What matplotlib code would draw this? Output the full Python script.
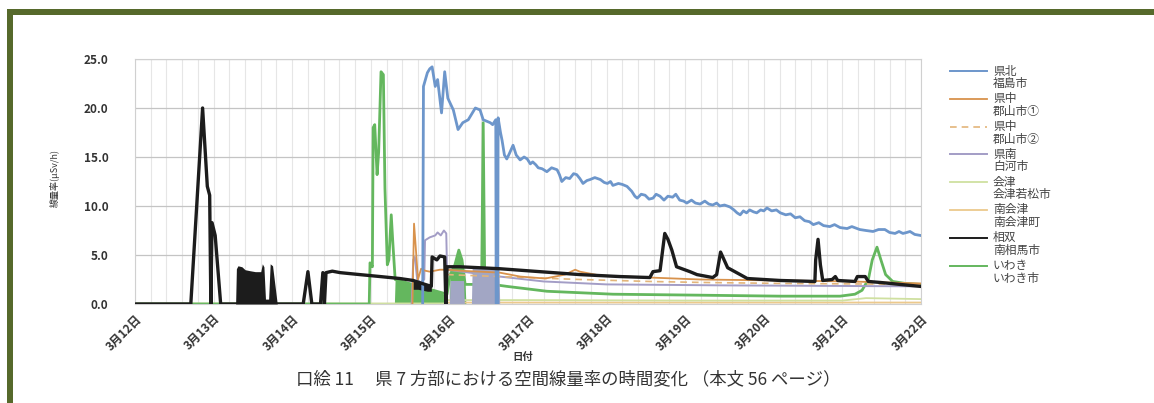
import matplotlib
matplotlib.use("Agg")
import matplotlib.pyplot as plt
from matplotlib.lines import Line2D
from matplotlib.patches import Rectangle

plt.rcParams['font.family'] = ['Noto Sans CJK JP', 'DejaVu Sans']

W, H = 1154, 403

# ---- data: elapsed days since 3/12 00:00, dose rate in μSv/h ----
date_labels = ['3月12日', '3月13日', '3月14日', '3月15日', '3月16日', '3月17日',
               '3月18日', '3月19日', '3月20日', '3月21日', '3月22日']

fukushima = [(3.66, 0), (3.67, 22.2), (3.72, 23.6), (3.75, 24.0), (3.78, 24.2), (3.82, 22.2),
             (3.85, 22.9), (3.90, 19.5), (3.94, 23.7), (3.98, 21.0), (4.05, 19.8), (4.11, 17.8),
             (4.17, 18.5), (4.24, 18.8), (4.33, 20.0), (4.39, 19.8), (4.43, 18.8), (4.52, 18.5),
             (4.55, 18.3), (4.59, 18.8), (4.595, 0), (4.615, 0), (4.62, 19.0), (4.65, 17.5),
             (4.67, 16.7), (4.70, 15.2), (4.73, 14.8), (4.76, 15.3), (4.81, 16.2), (4.85, 15.2),
             (4.90, 14.7), (4.95, 15.0), (4.99, 14.8), (5.03, 14.3), (5.06, 14.5), (5.10, 14.2),
             (5.13, 13.9), (5.18, 13.8), (5.24, 13.5), (5.30, 13.9), (5.37, 13.7), (5.40, 13.2),
             (5.43, 12.5), (5.48, 12.9), (5.53, 12.8), (5.58, 13.3), (5.62, 13.2), (5.66, 12.8),
             (5.70, 12.3), (5.75, 12.6), (5.79, 12.7), (5.85, 12.9), (5.92, 12.7), (5.97, 12.4),
             (6.01, 12.3), (6.05, 12.5), (6.08, 12.1), (6.15, 12.3), (6.20, 12.2), (6.26, 12.0),
             (6.32, 11.5), (6.36, 11.0), (6.39, 10.8), (6.44, 11.2), (6.49, 11.1), (6.54, 10.7),
             (6.59, 10.8), (6.63, 11.2), (6.68, 11.0), (6.73, 10.6), (6.78, 11.0), (6.84, 10.9),
             (6.88, 11.2), (6.93, 10.6), (6.98, 10.5), (7.02, 10.3), (7.08, 10.6), (7.13, 10.3),
             (7.19, 10.2), (7.25, 10.5), (7.30, 10.2), (7.35, 10.1), (7.40, 10.3), (7.44, 10.0),
             (7.50, 10.1), (7.57, 9.9), (7.62, 9.6), (7.66, 9.3), (7.70, 9.1), (7.74, 9.5),
             (7.78, 9.3), (7.82, 9.6), (7.87, 9.4), (7.91, 9.3), (7.96, 9.6), (8.00, 9.5),
             (8.04, 9.8), (8.10, 9.5), (8.16, 9.6), (8.21, 9.3), (8.28, 9.1), (8.34, 9.2),
             (8.40, 8.8), (8.46, 8.9), (8.52, 8.5), (8.58, 8.4), (8.63, 8.1), (8.70, 8.3),
             (8.76, 8.0), (8.84, 7.9), (8.90, 8.1), (8.97, 7.8), (9.06, 7.7), (9.12, 7.9),
             (9.22, 7.6), (9.30, 7.5), (9.39, 7.4), (9.46, 7.6), (9.54, 7.6), (9.60, 7.3),
             (9.67, 7.2), (9.72, 7.4), (9.77, 7.2), (9.82, 7.3), (9.86, 7.4), (9.92, 7.1),
             (9.99, 7.0)]

koriyama1 = [(3.53, 0), (3.55, 8.2), (3.57, 6.0), (3.60, 2.5), (3.64, 3.6), (3.69, 3.4),
             (3.75, 3.3), (3.88, 3.5), (3.97, 3.5), (4.13, 3.4), (4.64, 3.2), (4.90, 2.8),
             (5.22, 2.6), (5.47, 3.0), (5.60, 3.5), (5.66, 3.3), (5.92, 2.9), (6.55, 2.7),
             (7.19, 2.5), (8.21, 2.4), (9.10, 2.3), (9.99, 2.1)]

koriyama2 = [(3.97, 3.0), (4.64, 2.8), (5.66, 2.5), (6.55, 2.3), (7.20, 2.2),
             (8.21, 2.1), (9.99, 2.0)]

shirakawa = [(3.52, 0), (3.54, 4.5), (3.56, 4.8), (3.59, 2.5), (3.63, 2.2), (3.68, 2.5),
             (3.69, 6.5), (3.75, 6.8), (3.82, 7.0), (3.85, 7.3), (3.89, 7.0), (3.93, 7.5),
             (3.96, 7.2), (3.97, 3.5), (4.64, 2.8), (5.20, 2.3), (6.00, 2.0), (7.50, 1.9),
             (9.99, 1.8)]
shirakawa_burst = [(4.00, 0), (4.01, 2.4), (4.18, 2.4), (4.19, 0), (4.28, 0), (4.29, 3.8),
                   (4.63, 3.8), (4.64, 0)]

aizu = [(0, 0.05), (3.96, 0.05), (3.97, 0.4), (5.00, 0.4), (7.00, 0.35), (9.00, 0.35),
        (9.30, 0.6), (9.99, 0.5)]

minamiaizu = [(0, 0.02), (3.96, 0.02), (3.97, 0.15), (9.99, 0.15)]

minamisoma = [(0, 0), (0.71, 0), (0.86, 20.0), (0.92, 12.0), (0.95, 11.1), (0.965, 0),
              (0.98, 8.3), (1.02, 7.0), (1.09, 0), (2.14, 0), (2.20, 3.3), (2.25, 0),
              (2.36, 0), (2.39, 3.2), (2.41, 0), (2.43, 3.2), (2.51, 3.35), (2.61, 3.2),
              (2.86, 3.0), (3.12, 2.8), (3.37, 2.6), (3.54, 2.4), (3.65, 2.1), (3.77, 1.8),
              (3.78, 4.8), (3.84, 4.5), (3.88, 4.9), (3.94, 4.8), (3.955, 0), (3.97, 3.8),
              (4.13, 3.8), (4.64, 3.6), (5.15, 3.3), (5.66, 3.0), (6.17, 2.8), (6.55, 2.7),
              (6.59, 3.3), (6.68, 3.4), (6.74, 7.2), (6.78, 6.6), (6.83, 5.5), (6.89, 3.8),
              (7.06, 3.3), (7.15, 3.0), (7.35, 2.7), (7.40, 3.0), (7.45, 5.3), (7.54, 3.7),
              (7.70, 3.0), (7.79, 2.6), (8.21, 2.4), (8.65, 2.3), (8.66, 4.5), (8.69, 6.6),
              (8.72, 4.0), (8.75, 2.4), (8.87, 2.5), (8.91, 2.8), (8.94, 2.4), (9.16, 2.3),
              (9.19, 2.8), (9.29, 2.8), (9.33, 2.3), (9.48, 2.2), (9.73, 2.0), (9.99, 1.8)]
minamisoma_burst = [(1.28, 0), (1.29, 3.6), (1.31, 3.9), (1.36, 3.8), (1.40, 3.5), (1.46, 3.4),
                    (1.53, 3.3), (1.60, 3.3), (1.62, 4.1), (1.64, 3.8), (1.66, 0.5), (1.70, 0.5),
                    (1.72, 4.1), (1.75, 3.9), (1.81, 0)]
minamisoma_band_t = [3.54, 3.60, 3.66, 3.72, 3.77]
minamisoma_band_lo = [1.5, 1.5, 1.4, 1.3, 1.3]
minamisoma_band_hi = [2.4, 2.3, 2.2, 2.0, 1.9]

iwaki = [(0, 0), (2.98, 0), (2.99, 4.2), (3.02, 3.8), (3.03, 18.0), (3.05, 18.3), (3.08, 13.2),
         (3.10, 15.5), (3.13, 23.7), (3.16, 23.4), (3.18, 11.8), (3.21, 4.0), (3.23, 4.5),
         (3.26, 9.1), (3.28, 6.3), (3.31, 2.5), (3.97, 1.0), (4.01, 3.0), (4.07, 4.0),
         (4.12, 5.5), (4.16, 4.5), (4.20, 2.0), (4.41, 2.0), (4.43, 18.5), (4.45, 2.0),
         (4.64, 1.9), (4.73, 1.8), (5.24, 1.3), (6.08, 1.0), (7.19, 0.9), (8.21, 0.8),
         (8.97, 0.8), (9.16, 1.0), (9.25, 1.4), (9.33, 2.5), (9.38, 4.5), (9.44, 5.8),
         (9.49, 4.5), (9.55, 3.0), (9.64, 2.3), (9.80, 2.1), (9.99, 2.0)]
iwaki_burst = [(3.30, 0), (3.31, 2.7), (3.45, 2.3), (3.60, 1.9), (3.75, 1.5), (3.90, 1.1),
               (3.97, 0.9), (3.98, 0), (4.00, 0), (4.01, 3.0), (4.07, 4.0), (4.12, 5.5),
               (4.16, 4.5), (4.20, 2.0), (4.21, 0)]

series = [
    ('県北', '福島市', fukushima, '#6d96cb', 2.0, '-'),
    ('県中', '郡山市①', koriyama1, '#d8924c', 1.3, '-'),
    ('県中', '郡山市②', koriyama2, '#e3b57a', 1.2, (0, (4, 3))),
    ('県南', '白河市', shirakawa, '#a39dc6', 1.4, '-'),
    ('会津', '会津若松市', aizu, '#cfe0a0', 1.3, '-'),
    ('南会津', '南会津町', minamiaizu, '#ecc98c', 1.3, '-'),
    ('相双', '南相馬市', minamisoma, '#1c1c1c', 2.4, '-'),
    ('いわき', 'いわき市', iwaki, '#64b75e', 2.0, '-'),
]


def split(pairs):
    return [p[0] for p in pairs], [p[1] for p in pairs]


fig = plt.figure(figsize=(W / 100, H / 100), dpi=100)
fig.patch.set_facecolor('white')

# olive frame around the page
frame = '#56692b'
fig.add_artist(Rectangle((7 / W, 0), 6 / W, 1 - 9 / H, transform=fig.transFigure,
                         color=frame, lw=0))
fig.add_artist(Rectangle((7 / W, 1 - 15 / H), 1 - 7 / W, 6 / H, transform=fig.transFigure,
                         color=frame, lw=0))

ax = fig.add_axes([135 / W, 1 - 304 / H, (921 - 135) / W, (304 - 59) / H])
ax.set_xlim(0, 10)
ax.set_ylim(0, 25)

ax.set_xticks(range(len(date_labels)))
ax.set_xticks([i / 5 for i in range(51)], minor=True)
ax.set_xticklabels(date_labels, rotation=45, ha='right', rotation_mode='anchor',
                   fontsize=8.5, fontweight='bold', color='#333333')
ax.set_yticks([0, 5, 10, 15, 20, 25])
ax.set_yticklabels(['0.0', '5.0', '10.0', '15.0', '20.0', '25.0'],
                   fontsize=8.5, fontweight='bold', color='#333333')
ax.tick_params(axis='both', which='both', length=0)
ax.tick_params(axis='y', pad=19)
ax.tick_params(axis='x', pad=6)
ax.grid(axis='x', which='both', color='#e6e6e6', lw=0.8)
ax.grid(axis='y', which='major', color='#c4c4c4', lw=0.9)
ax.set_axisbelow(True)
for s in ax.spines.values():
    s.set_color('#d0d0d0')
    s.set_linewidth(0.8)

# dropout stretches recorded as rapid on/off readings
t, v = split(minamisoma_burst)
ax.fill_between(t, 0, v, color='#1c1c1c', lw=0, zorder=3)
ax.fill_between(minamisoma_band_t, minamisoma_band_lo, minamisoma_band_hi,
                color='#1c1c1c', lw=0, zorder=3)
t, v = split(iwaki_burst)
ax.fill_between(t, 0, v, color='#64b75e', lw=0, zorder=2)
t, v = split(shirakawa_burst)
ax.fill_between(t, 0, v, color='#a2a6c4', lw=0, zorder=2.5)

zorders = [3, 2.6, 2.5, 2.4, 2.2, 2.1, 3.2, 2.3]
for (l1, l2, pairs, col, lw, ls), z in zip(series, zorders):
    t, v = split(pairs)
    ax.plot(t, v, color=col, lw=lw, ls=ls, zorder=z, solid_joinstyle='round')

ax.set_ylabel('線量率(μSv/h)', fontsize=6.5, color='#333333')
ax.yaxis.set_label_coords((60 - 135) / (921 - 135), (304 - 178) / (304 - 59))
ax.set_xlabel('日付', fontsize=7.5, fontweight='bold', color='#333333')
ax.xaxis.set_label_coords((523 - 135) / (921 - 135), -(352 - 304) / (304 - 59))

# legend, drawn beside the plot
for k, (l1, l2, pairs, col, lw, ls) in enumerate(series):
    y1 = 71 + 27.8 * k
    fig.add_artist(Line2D([950 / W, 987 / W], [1 - y1 / H, 1 - y1 / H],
                          transform=fig.transFigure, color=col,
                          lw=min(lw, 1.4), ls=ls))
    fig.text(993 / W, 1 - y1 / H, l1, fontsize=8.5, va='center', ha='left', color='#444444')
    fig.text(993 / W, 1 - (y1 + 12.5) / H, l2, fontsize=8.5, va='center', ha='left',
             color='#444444')

fig.text(568 / W, 1 - 379 / H, '口絵 11　 県 7 方部における空間線量率の時間変化 （本文 56 ページ）',
         fontsize=12.5, ha='center', va='center', color='#333333')

fig.savefig('out.png', dpi=100)
